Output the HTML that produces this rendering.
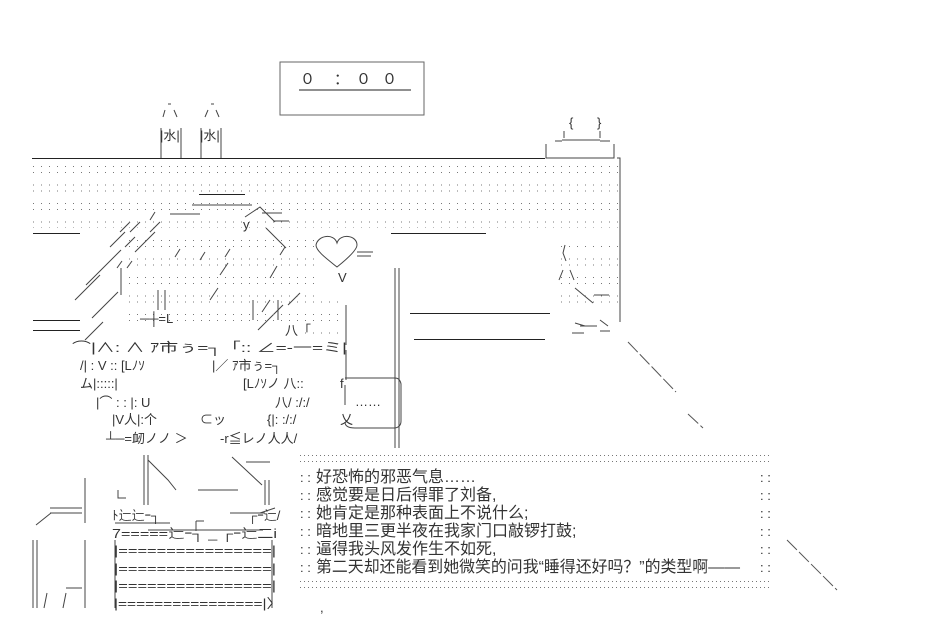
<!DOCTYPE html>
<html><head><meta charset="utf-8">
<style>
html,body{margin:0;padding:0;background:#fff;width:932px;height:640px;overflow:hidden}
svg{display:block}
text{font-family:"Liberation Sans","Noto Sans CJK SC",sans-serif;fill:#333}
.a{font-size:13px}
.c{font-size:16px;fill:#222}
</style></head><body>
<svg width="932" height="640" viewBox="0 0 932 640" xmlns="http://www.w3.org/2000/svg">
<defs>
<pattern id="d" x="33" y="166" width="8" height="18.5" patternUnits="userSpaceOnUse">
<rect x="0" y="0" width="1" height="1" fill="#777"/><rect x="0" y="6" width="1" height="1" fill="#777"/>
</pattern>
<pattern id="d2" x="300" y="455" width="4" height="6" patternUnits="userSpaceOnUse">
<rect x="0" y="0" width="1" height="1" fill="#777"/>
</pattern>
</defs>
<g stroke="#444" fill="none" stroke-width="1">
<path d="M280 62H424V115H280Z" stroke="#666"/>
<line x1="299" y1="90" x2="411" y2="90" stroke="#222"/>
<path d="M161 128V158M181 128V158M201 128V158M221 128V158"/>
<path d="M168 104h3M165 110l-2 7M174 110l3 7M211 104h3M208 110l-3 7M216 110l3 7"/>
<line x1="32" y1="158.5" x2="545" y2="158.5" stroke="#222"/>
<path d="M546 144V158H614V144M546 158H614M562 140H600M555 141H562M600 141H610"/>
<path d="M564 131V138M600 131V138"/>
<path d="M617 158H620V322"/>
<line x1="33" y1="233.5" x2="80" y2="233.5" stroke="#222"/>
<line x1="391" y1="233.5" x2="486" y2="233.5" stroke="#222"/>
<line x1="199" y1="194.5" x2="245" y2="194.5" stroke="#222"/>
<path d="M192 205h60M170 214h30M262 213h20"/>
<line x1="33" y1="320.5" x2="80" y2="320.5" stroke="#222"/>
<line x1="33" y1="330.5" x2="80" y2="330.5" stroke="#222"/>
<line x1="410" y1="313.5" x2="550" y2="313.5" stroke="#222"/>
<line x1="414" y1="339.5" x2="545" y2="339.5" stroke="#222"/>
<path d="M120 232l10-10M130 232l10-10M150 232l10-10M110 247l15-15M125 247l10-10M135 252l20-20M117 268l5-7M127 268l5-7M175 257l5-8M225 257l5-8M86 285l35-35M75 300l25-25M92 318l26-26M85 340l18-18"/>
<path d="M200 260l5-8M220 275l8-12M270 278l7-12M280 255l5-8M210 300l8-12M270 300l-8 12M258 330l25-25M288 305l12-12"/>
<path d="M155 212l-5 8M245 217l15-10 15 15M274 221h15M266 228l20 20"/>
<path d="M121 268V295M158 290V310M165 290V310M253 300V320M278 300V320M346 305V345M346 350V380"/>
<path d="M395 268V448M399 268V448"/>
<path d="M316 245c2-10 18-12 21-2c3-10 20-8 20 2c0 5-10 14-20 22c-10-8-21-16-21-22z"/>
<path d="M357 252h16M357 256h14"/>
<path d="M345 378h50q5 0 6 6v37q0 6-6 7h-40q-10 0-10-6"/>
<path d="M345 385v20"/>
<path d="M565 245l-2 8 3 8M563 270l-4 10M570 270l4 10M575 288l18 15M594 295h15M600 320l8 6M575 323l10 3M580 326h17M600 331h10M572 333h12"/>
<path d="M628 342l48 50M688 414l15 14M787 540l50 50" stroke="#555" stroke-dasharray="14 3"/>
<path d="M85 478V523M85 540V608M144 455V505M148 455V505M265 480V505M269 480V505M148 460l20 20 8 10M232 457l30 28M198 490h40M246 462h24"/>
<path d="M50 508h32M36 525l15-12M50 513h32M33 540V608M37 540V608M66 588h16M47 593l-3 15M66 593l-3 15"/>
<path d="M115 540V608M272 540V608M118 490v8h8"/>
<path d="M115 523h55M148 530h115M196 521h8M196 521v10M230 513h35M260 513l15-5"/>
</g>
<rect x="33" y="165" width="586" height="63" fill="url(#d)"/>
<rect x="125" y="236" width="190" height="95" fill="url(#d)"/>
<rect x="300" y="300" width="45" height="38" fill="url(#d)"/>
<rect x="560" y="244" width="58" height="60" fill="url(#d)"/>
<g fill="url(#d2)">
<rect x="300" y="455" width="470" height="2"/><rect x="300" y="461" width="470" height="2"/>
<rect x="300" y="580" width="470" height="2"/><rect x="300" y="586" width="470" height="2"/>
</g>
<g class="a">
<text x="300" y="84" font-size="15">０</text><text x="334" y="84" font-size="15">：</text><text x="356" y="84" font-size="15">０</text><text x="382" y="84" font-size="15">０</text>
<text x="160" y="140">|水|</text><text x="200" y="140">|水|</text>
<text x="569" y="127">{</text><text x="597" y="127">}</text>
<text x="243" y="229">y</text>
<text x="338" y="282">V</text>
<text x="72" y="352" textLength="275" lengthAdjust="spacingAndGlyphs">⌒|∧: ∧ ｱ市ぅ=┐「:: ∠=-一=ミ|</text>
<text x="80" y="370">/| : V :: [Lﾉｿ</text><text x="212" y="370">|／ ｱ市ぅ=┐</text>
<text x="80" y="388">ム|:::::|</text><text x="243" y="388">[Lﾉｿノ 八::</text><text x="340" y="388">f</text>
<text x="96" y="407">|⌒ : : |: U</text><text x="275" y="407">八/ :/:/</text>
<text x="112" y="424">|V人|:个</text><text x="200" y="424">⊂ッ</text><text x="267" y="424">{|: :/:/</text><text x="340" y="424">乂</text>
<text x="106" y="443">┴─=衂ノノ ＞</text><text x="220" y="443">-r≦レノ人人/</text>
<text x="355" y="406">……</text>
<text x="140" y="323">─┼=L</text><text x="285" y="335">八「</text>
<text x="112" y="520">ﾄ辷辷ｰ┐</text><text x="248" y="520">┌ｰ辷/</text>
<text x="112" y="538" textLength="165" lengthAdjust="spacingAndGlyphs">7=====辷ｰ┐ _ ┌ｰ辷二i</text>
<text x="114" y="555" textLength="162" lengthAdjust="spacingAndGlyphs">|================|</text>
<text x="114" y="573" textLength="162" lengthAdjust="spacingAndGlyphs">|================|</text>
<text x="114" y="590" textLength="162" lengthAdjust="spacingAndGlyphs">|================|</text>
<text x="114" y="608" textLength="168" lengthAdjust="spacingAndGlyphs">|================|〉</text>
<text x="320" y="612">,</text>
<text x="300" y="482">: :</text><text x="300" y="500">: :</text><text x="300" y="518">: :</text><text x="300" y="536">: :</text><text x="300" y="554">: :</text><text x="300" y="572">: :</text>
<text x="760" y="482">: :</text><text x="760" y="500">: :</text><text x="760" y="518">: :</text><text x="760" y="536">: :</text><text x="760" y="554">: :</text><text x="760" y="572">: :</text>
</g>
<g class="c">
<text x="316" y="482">好恐怖的邪恶气息……</text>
<text x="316" y="500">感觉要是日后得罪了刘备,</text>
<text x="316" y="518">她肯定是那种表面上不说什么;</text>
<text x="316" y="536">暗地里三更半夜在我家门口敲锣打鼓;</text>
<text x="316" y="554">逼得我头风发作生不如死,</text>
<text x="316" y="572" textLength="424" lengthAdjust="spacingAndGlyphs">第二天却还能看到她微笑的问我“睡得还好吗？”的类型啊——</text>
</g>
</svg>
</body></html>
